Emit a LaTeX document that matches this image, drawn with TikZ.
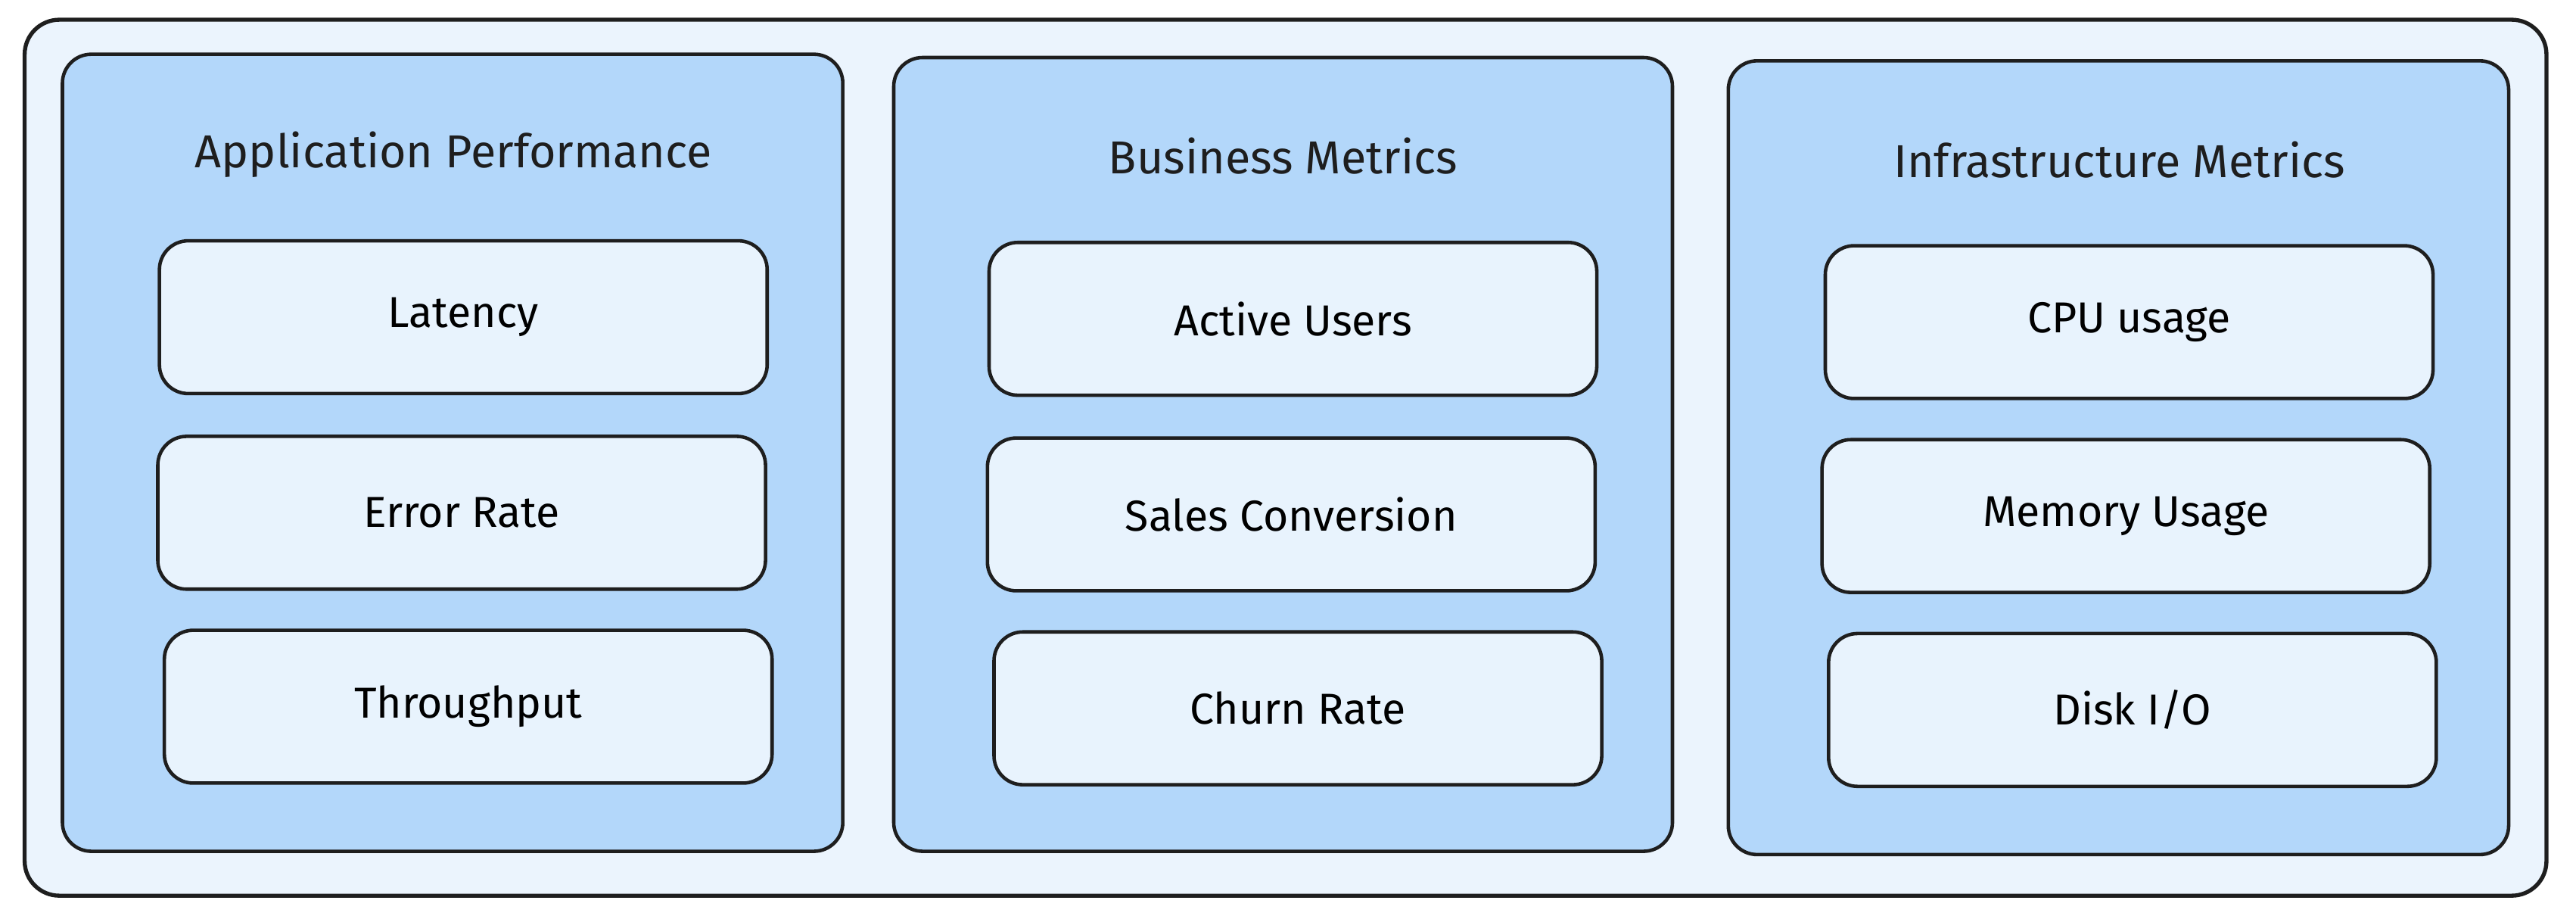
\documentclass[tikz,border=0pt]{standalone}
\usepackage{fontspec}
\setmainfont{Fira Sans}
\usetikzlibrary{positioning}
\definecolor{outerfill}{HTML}{EBF4FD}
\definecolor{panelfill}{HTML}{B3D7FA}
\definecolor{itemfill}{HTML}{E8F3FD}
\definecolor{ink}{HTML}{1E1E1E}
\begin{document}
\begin{tikzpicture}[x=0.02cm,y=-0.02cm,
    outer box/.style={draw=ink,fill=outerfill,line width=1.4pt,rounded corners=12pt},
    panel box/.style={draw=ink,fill=panelfill,line width=1.2pt,rounded corners=10pt},
    item node/.style={draw=ink,fill=itemfill,line width=1.2pt,rounded corners=10pt,
      minimum width=7.4cm,minimum height=1.86cm,font=\fontsize{15}{18}\selectfont},
    title node/.style={font=\fontsize{16}{19}\selectfont,text=ink}]
   \useasboundingbox (0,0) rectangle (1568,559);
   \draw[outer box] (15,12) rectangle (1550,545);
   % panels
   \draw[panel box] (38,33) rectangle (513,518);
   \draw[panel box] (544,35) rectangle (1018,518);
   \draw[panel box] (1052,37) rectangle (1527,520);
   \node[title node] (apptitle) at (276,94) {Application Performance};
   \node[title node] (bustitle) at (781,95) {Business Metrics};
   \node[title node] (inftitle) at (1290,97) {Infrastructure Metrics};
   % application performance
   \node[item node] (latency) at (282,193) {Latency};
   \node[item node] (error) at (281,312) {Error Rate};
   \node[item node] (through) at (285,430) {Throughput};
   % business metrics
   \node[item node] (active) at (787,194) {Active Users};
   \node[item node] (sales) at (786,313) {Sales Conversion};
   \node[item node] (churn) at (790,431) {Churn Rate};
   % infrastructure metrics
   \node[item node] (cpu) at (1296,196) {CPU usage};
   \node[item node] (memory) at (1294,314) {Memory Usage};
   \node[item node] (disk) at (1298,432) {Disk I/O};
\end{tikzpicture}
\end{document}
